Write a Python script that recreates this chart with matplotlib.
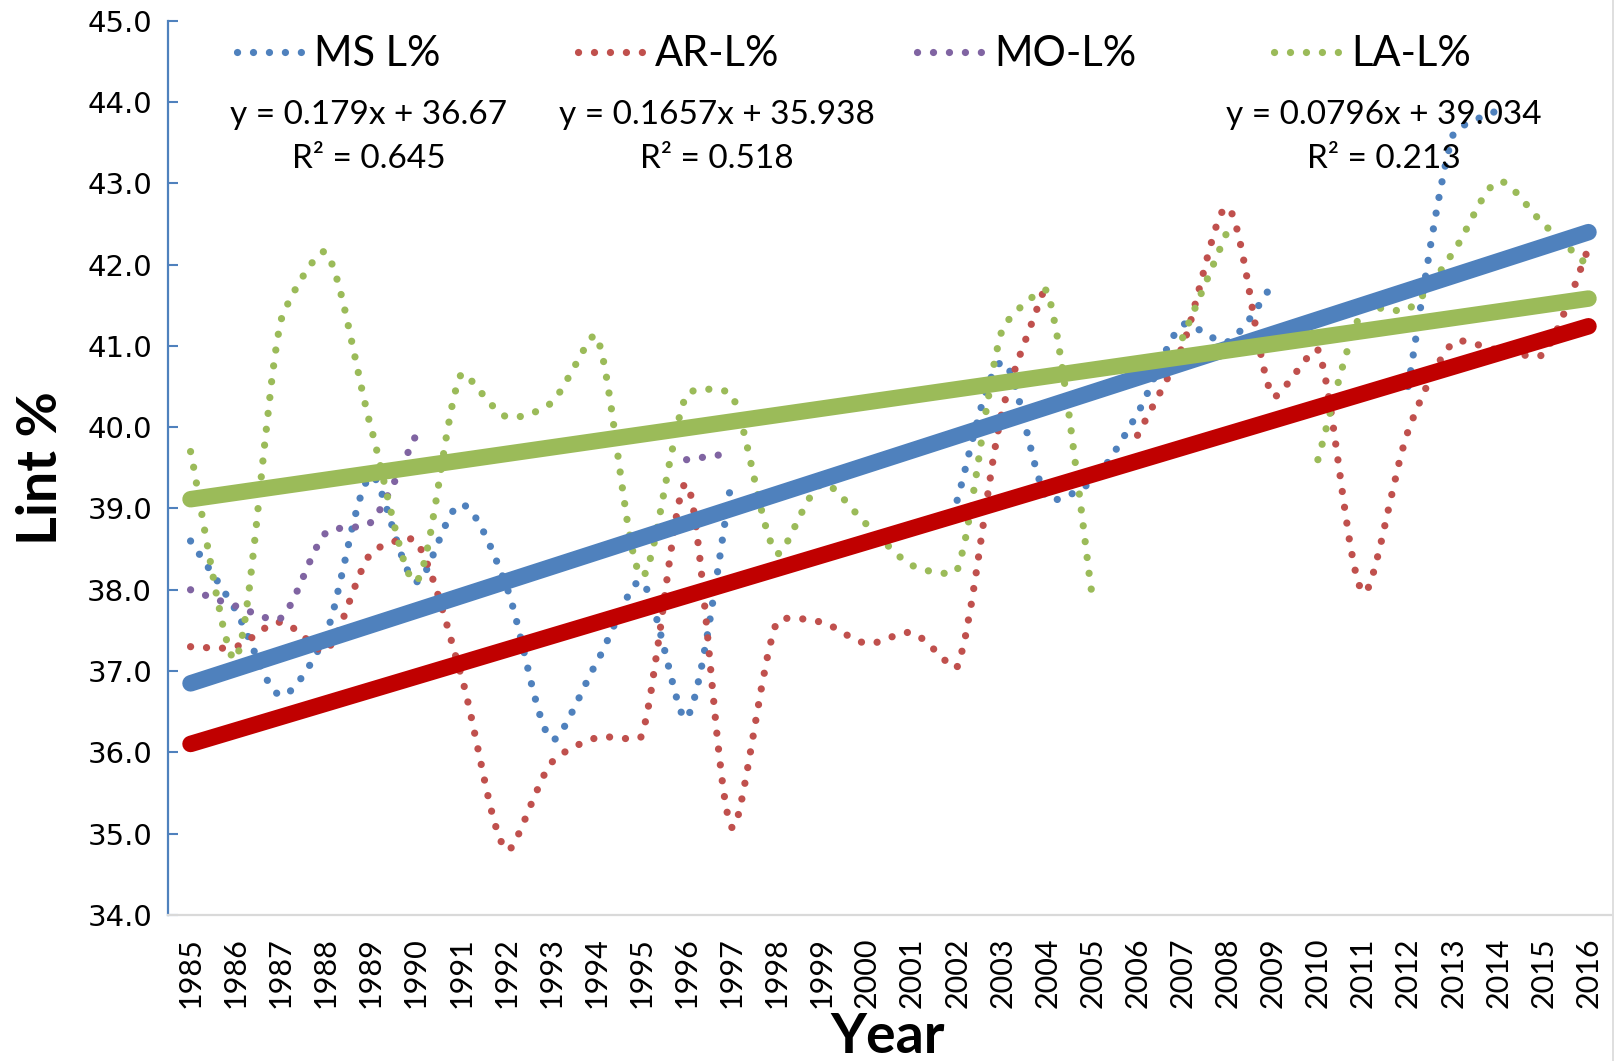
import numpy as np
import matplotlib
matplotlib.use("Agg")
import matplotlib.pyplot as plt
from matplotlib.path import Path
from matplotlib.patches import PathPatch
from matplotlib.lines import Line2D

nan = np.nan
years = list(range(1985, 2017))

ms_l = [38.6, 37.75, 36.7, 37.45, 39.4, 38.1, 39.05, 38.05, 36.16, 37.1,
        38.1, 36.42, 39.35, nan, nan, nan, nan, 39.1, 40.8, 39.12,
        39.34, 40.17, 41.26, 41.05, 41.76, nan, nan, 40.5, 43.6, 43.9,
        nan, nan]
ar_l = [37.3, 37.3, 37.6, 37.25, 38.45, 38.6, 36.95, 34.8, 35.87, 36.18,
        36.2, 39.3, 35.08, 37.6, 37.6, 37.34, 37.47, 37.05, 40.2, 41.8,
        nan, 39.9, 41.0, 42.7, 40.38, 40.95, 37.97, 39.95, 41.04, 40.95,
        40.9, 42.2]
mo_l = [38.0, 37.8, 37.65, 38.7, 38.83, 39.9, nan, nan, nan, nan,
        nan, 39.6, 39.68, nan, nan, nan, nan, nan, nan, nan,
        nan, nan, nan, nan, nan, nan, nan, nan, nan, nan,
        nan, nan]
la_l = [39.7, 37.15, 41.3, 42.15, 40.0, 38.1, 40.65, 40.13, 40.3, 41.12,
        38.17, 40.4, 40.4, 38.45, 39.3, 38.8, 38.3, 38.24, 41.2, 41.67,
        37.9, nan, 41.1, 42.42, nan, 39.6, 41.45, 41.45, 42.15, 43.02,
        42.5, 41.98]

series_names = ["MS L%", "AR-L%", "MO-L%", "LA-L%"]
series_values = [ms_l, ar_l, mo_l, la_l]
series_colors = ["#4F81BD", "#C0504D", "#8064A2", "#9BBB59"]

# linear trendlines (Excel, x = 1..n): MS, AR, LA
trend_names = ["MS L%", "AR-L%", "LA-L%"]
trend_slope = [0.179, 0.1657, 0.0796]
trend_intercept = [36.67, 35.938, 39.034]
trend_r2 = [0.645, 0.518, 0.213]
trend_colors = ["#4F81BD", "#C00000", "#9BBB59"]

y_ticks = [34, 35, 36, 37, 38, 39, 40, 41, 42, 43, 44, 45]

W, H, DPI = 1614, 1061, 100
fig = plt.figure(figsize=(W / DPI, H / DPI), dpi=DPI)
fig.patch.set_facecolor("white")
AX_L, AX_R, AX_T, AX_B = 168, 1611, 20.6, 915
ax = fig.add_axes([AX_L / W, 1 - AX_B / H, (AX_R - AX_L) / W, (AX_B - AX_T) / H])

XLIM = (1984.5, 2016.5)
YLIM = (34, 45)
ax.set_xlim(*XLIM)
ax.set_ylim(*YLIM)

# pixel scale (for Excel-like smoothing, which works in screen space)
SX = (AX_R - AX_L) / (XLIM[1] - XLIM[0])
SY = (AX_B - AX_T) / (YLIM[1] - YLIM[0])

DOT = (0, (0.01, 2.2))
DOT_LW = 5.2


def segments(xs, ys):
    segs, cur = [], []
    for x, y in zip(xs, ys):
        if y is None or np.isnan(y):
            if cur:
                segs.append(cur)
            cur = []
        else:
            cur.append((x, y))
    if cur:
        segs.append(cur)
    return segs


def pdist(a, b):
    return np.hypot((a[0] - b[0]) * SX, (a[1] - b[1]) * SY)


def smooth_path(pts):
    p = np.array(pts, dtype=float)
    n = len(p)
    c_out = [None] * n
    c_in = [None] * n
    for i in range(n):
        if i == 0:
            c_out[i] = p[0] + (p[1] - p[0]) / 6.0
            continue
        if i == n - 1:
            c_in[i] = p[i] - (p[i] - p[i - 1]) / 6.0
            continue
        tang = p[i + 1] - p[i - 1]
        dp = pdist(p[i], p[i - 1])
        dn = pdist(p[i], p[i + 1])
        f_out = min(1.0, dn / dp) / 6.0 if dp > 0 else 1 / 6.0
        f_in = min(1.0, dp / dn) / 6.0 if dn > 0 else 1 / 6.0
        c_out[i] = p[i] + tang * f_out
        c_in[i] = p[i] - tang * f_in
    verts = [p[0]]
    codes = [Path.MOVETO]
    for i in range(n - 1):
        verts += [c_out[i], c_in[i + 1], p[i + 1]]
        codes += [Path.CURVE4] * 3
    return Path(verts, codes)


for vals, col in zip(series_values, series_colors):
    for seg in segments(years, vals):
        if len(seg) < 2:
            continue
        patch = PathPatch(smooth_path(seg), fill=False, edgecolor=col,
                          lw=DOT_LW, linestyle=DOT, capstyle="round", zorder=2)
        ax.add_patch(patch)

idx = np.arange(1, len(years) + 1)
for s, b, col in zip(trend_slope, trend_intercept, trend_colors):
    ax.plot(years, s * idx + b, color=col, lw=11.9,
            solid_capstyle="round", zorder=3)

ax.set_yticks(y_ticks)
ax.set_yticklabels([f"{v:.1f}" for v in y_ticks], fontfamily="DejaVu Sans")
ax.set_xticks(years)
ax.set_xticklabels([str(y) for y in years], fontfamily="Lato", rotation=90)

for side in ("top", "right"):
    ax.spines[side].set_visible(False)
ax.spines["left"].set_color("#4F81BD")
ax.spines["left"].set_linewidth(1.6)
ax.spines["bottom"].set_color("#D9D9D9")
ax.spines["bottom"].set_linewidth(1.6)
ax.tick_params(axis="y", direction="in", length=7.2, width=1.5,
               color="#4F81BD", pad=11.5, labelsize=21)
ax.tick_params(axis="x", length=0, pad=16, labelsize=22)

handles = [Line2D([], [], color=c, lw=DOT_LW, linestyle=DOT,
                  dash_capstyle="round") for c in series_colors]
leg = ax.legend(handles, series_names, ncol=4, frameon=False,
                loc="center left", bbox_to_anchor=(237 / W, 1 - 54.5 / H),
                bbox_transform=fig.transFigure, borderpad=0, borderaxespad=0,
                handlelength=1.65, handletextpad=0.2, columnspacing=3.3,
                prop={"family": "Lato", "size": 30})

eq_pos = [(368.5, 115, 159.5), (716.5, 115, 159.5), (1383.4, 115, 159.5)]
for (x, y1, y2), s, b, r in zip(eq_pos, trend_slope, trend_intercept, trend_r2):
    fig.text(x / W, 1 - y1 / H, f"y = {s:g}x + {b:g}", ha="center", va="center",
             fontsize=24, fontfamily="Lato", zorder=5)
    fig.text(x / W, 1 - y2 / H, f"R² = {r:.3f}", ha="center", va="center",
             fontsize=24, fontfamily="Lato", zorder=5)

fig.text(41 / W, 1 - 468 / H, "Lint %", rotation=90, ha="center", va="center",
         fontsize=40, fontweight="bold", fontfamily="Lato")
fig.text(888 / W, 1 - 1037 / H, "Year", ha="center", va="center",
         fontsize=40, fontweight="bold", fontfamily="Lato")

fig.add_artist(Line2D([1612.5 / W, 1612.5 / W], [0, 1], transform=fig.transFigure,
                      color="#D9D9D9", lw=1.2))

fig.savefig("out.png", dpi=DPI, facecolor="white")
